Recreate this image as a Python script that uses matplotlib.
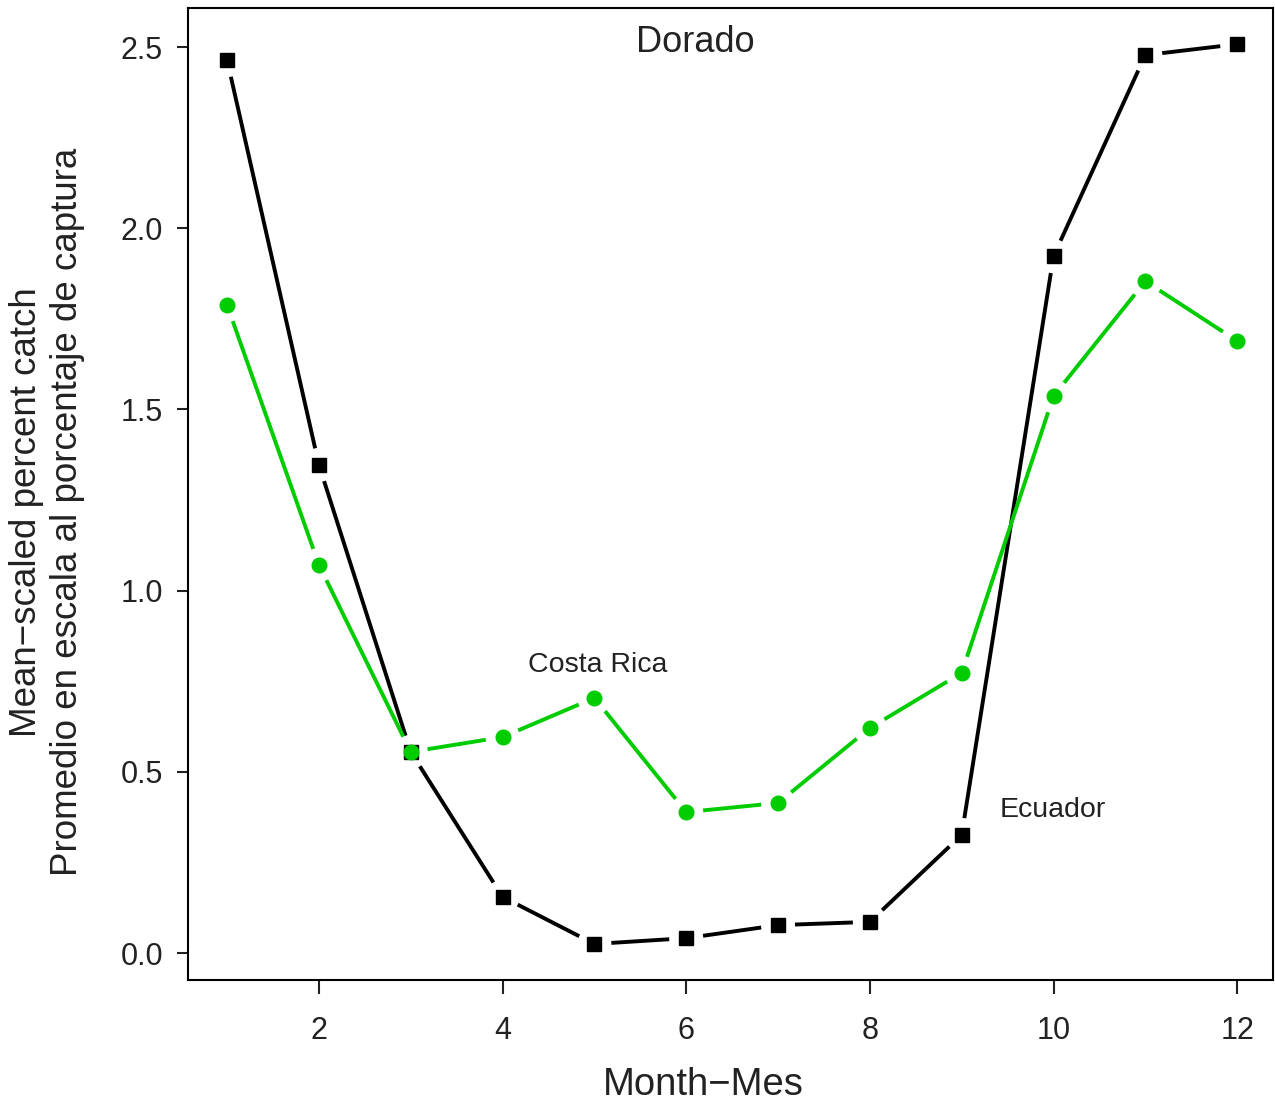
import numpy as np
import matplotlib.pyplot as plt

plt.rcParams['font.family'] = ['Liberation Sans', 'DejaVu Sans']

# Data
months = [1, 2, 3, 4, 5, 6, 7, 8, 9, 10, 11, 12]
ecuador = [2.464, 1.347, 0.555, 0.155, 0.025, 0.041, 0.077, 0.086, 0.326, 1.923, 2.478, 2.508]
costa_rica = [1.788, 1.071, 0.555, 0.596, 0.704, 0.389, 0.414, 0.621, 0.773, 1.537, 1.854, 1.689]

green = '#00cc00'
ink = '#222222'

fig = plt.figure(figsize=(12.75, 11.06), dpi=100)
ax = fig.add_axes([0.1475, 0.1139, 0.8509, 0.8789])
ax.set_xlim(0.575, 12.39)
ax.set_ylim(-0.0745, 2.608)


def type_b(x, y, color, marker, ms, gap=17):
    # R-style type="b": line segments stop short of the points
    pts = ax.transData.transform(np.column_stack([x, y]))
    inv = ax.transData.inverted()
    for p, q in zip(pts[:-1], pts[1:]):
        d = q - p
        n = np.hypot(*d)
        if n <= 2 * gap:
            continue
        u = d / n
        a, b = inv.transform([p + u * gap, q - u * gap])
        ax.plot([a[0], b[0]], [a[1], b[1]], color=color, lw=2.8,
                solid_capstyle='butt')
    ax.plot(x, y, ls='none', marker=marker, ms=ms, color=color, mec=color)


type_b(months, ecuador, 'black', 's', 10)
type_b(months, costa_rica, green, 'o', 10.5)

ax.set_xticks([2, 4, 6, 8, 10, 12])
ax.set_yticks([0.0, 0.5, 1.0, 1.5, 2.0, 2.5])
ax.set_yticklabels(['0.0', '0.5', '1.0', '1.5', '2.0', '2.5'])
ax.tick_params(axis='x', direction='out', length=10, width=1.5, labelsize=22,
               pad=16, colors=ink)
ax.tick_params(axis='y', direction='out', length=8, width=1.5, labelsize=22,
               pad=10, colors=ink)
for s in ax.spines.values():
    s.set_linewidth(1.5)

H = 1106
W = 1275
fig.text(703 / W, 1 - 1085 / H, 'Month\u2212Mes', fontsize=27.5, color=ink,
         ha='center', va='center')
fig.text(47 / W, 1 - 512 / H,
         'Mean\u2212scaled percent catch\nPromedio en escala al porcentaje de captura',
         fontsize=26.5, color=ink, rotation=90, ha='center', va='center',
         linespacing=1.2, multialignment='center')

ax.text(695, H - 43, 'Dorado', transform=None, fontsize=26, ha='center',
        va='center', color=ink)
ax.text(598, H - 665, 'Costa Rica', transform=None, fontsize=20.5, ha='center',
        va='center', color=ink)
ax.text(1053, H - 810, 'Ecuador', transform=None, fontsize=20.5, ha='center',
        va='center', color=ink)

fig.savefig('out.png', dpi=100)
